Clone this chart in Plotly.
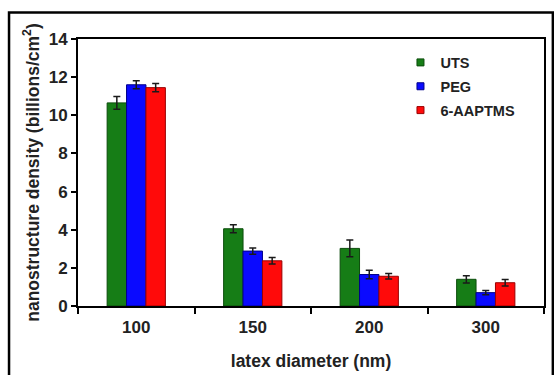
import plotly.graph_objects as go

# latex sphere diameters (nm) and nanostructure densities (billions/cm^2)
diameters = ["100", "150", "200", "300"]
uts = [10.65, 4.05, 3.02, 1.40]
uts_err = [0.33, 0.21, 0.44, 0.19]
peg = [11.60, 2.88, 1.65, 0.70]
peg_err = [0.21, 0.16, 0.22, 0.11]
aaptms = [11.45, 2.37, 1.56, 1.22]
aaptms_err = [0.22, 0.17, 0.14, 0.17]

series = [
    ("UTS", uts, uts_err, "#167d16", "#0b4d0b"),
    ("PEG", peg, peg_err, "#0a0aff", "#00008a"),
    ("6-AAPTMS", aaptms, aaptms_err, "#ff0a0a", "#9a0000"),
]

font_family = "Liberation Sans, Arial, sans-serif"

fig = go.Figure()
for name, vals, errs, color, edge in series:
    fig.add_trace(go.Bar(
        name=name,
        x=diameters,
        y=vals,
        marker=dict(color=color, line=dict(color=edge, width=1)),
        error_y=dict(type="data", array=errs, visible=True,
                     color="#1a1a1a", thickness=1.5, width=3.5),
        showlegend=False,
        legendgroup=name,
    ))

# small square legend keys
for name, vals, errs, color, edge in series:
    fig.add_trace(go.Scatter(
        name=name,
        x=[None], y=[None],
        mode="markers",
        marker=dict(symbol="square", size=7, color=color,
                    line=dict(color=edge, width=1)),
        showlegend=True,
        legendgroup=name,
    ))

fig.update_layout(
    width=554,
    height=375,
    margin=dict(l=78, r=10, t=39, b=69),
    paper_bgcolor="white",
    plot_bgcolor="white",
    barmode="group",
    bargap=0.5,
    bargroupgap=0,
    font=dict(family=font_family, color="#222222", size=15, weight="bold"),
    showlegend=True,
    legend=dict(
        x=0.692, y=0.972, xanchor="left", yanchor="top",
        bgcolor="rgba(0,0,0,0)",
        font=dict(size=14.5, weight="bold", color="#222222"),
        itemwidth=30,
        tracegroupgap=2,
    ),
    xaxis=dict(
        type="category",
        automargin=False,
        showline=True, linecolor="black", linewidth=2,
        mirror=True,
        ticks="outside", tickson="boundaries", ticklen=6, tickwidth=2,
        tickcolor="black",
        ticklabelstandoff=5,
        tickfont=dict(size=17, weight="bold"),
        title=dict(text="latex diameter (nm)", standoff=18,
                   font=dict(size=17.5, weight="bold")),
        showgrid=False,
    ),
    yaxis=dict(
        range=[0, 14],
        tickvals=[0, 2, 4, 6, 8, 10, 12, 14],
        automargin=False,
        showline=True, linecolor="black", linewidth=2,
        mirror=True,
        ticks="outside", ticklen=5, tickwidth=2, tickcolor="black",
        tickfont=dict(size=17, weight="bold"),
        title=dict(text="nanostructure density (billions/cm<sup>2</sup>)",
                   standoff=5, font=dict(size=17.5, weight="bold")),
        showgrid=False, zeroline=False,
    ),
)

# outer frame around the whole figure
fig.add_shape(type="rect", xref="paper", yref="paper",
              x0=-0.148, x1=1.019, y0=-0.265, y1=1.099,
              line=dict(color="black", width=2.5), layer="below")

fig.write_html("out.html")
